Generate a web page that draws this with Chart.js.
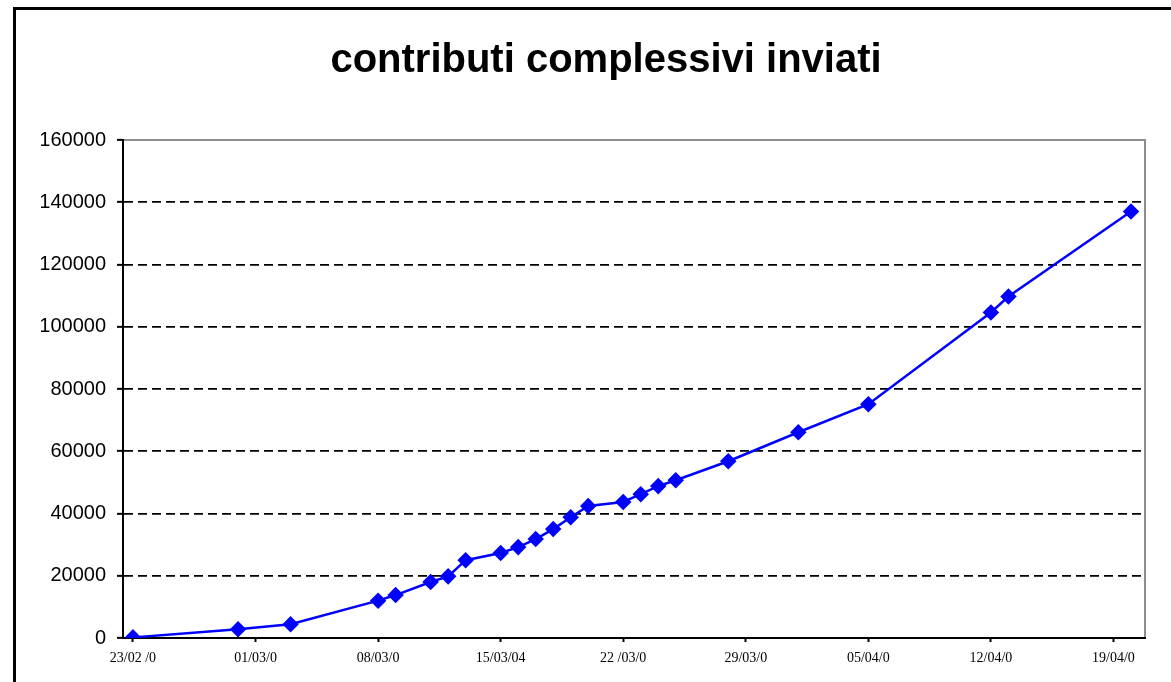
<!DOCTYPE html>
<html>
<head>
<meta charset="utf-8">
<script src="https://cdn.jsdelivr.net/npm/chart.js@4"></script>
<style>
  body { margin: 0; background: #fff; }
  #wrap { width: 1171px; height: 682px; }
</style>
</head>
<body>
<div id="wrap"><canvas id="chart" width="1171" height="682"></canvas></div>
<script>
// date dei contributi e totale cumulato
var dates = ["23/02/04","29/02/04","03/03/04","08/03/04","09/03/04","11/03/04","12/03/04","13/03/04",
             "15/03/04","16/03/04","17/03/04","18/03/04","19/03/04","20/03/04","22/03/04","23/03/04",
             "24/03/04","25/03/04","28/03/04","01/04/04","05/04/04","12/04/04","13/04/04","20/04/04"];
var totals = [200, 2800, 4400, 12000, 13800, 18000, 19800, 25000,
              27300, 29200, 31800, 35000, 38800, 42400, 43700, 46200,
              48800, 50700, 56800, 66100, 75100, 104600, 109700, 137000];

// etichette dell'asse x
var tickDates = ["23/02/04","01/03/04","08/03/04","15/03/04","22/03/04","29/03/04","05/04/04","12/04/04","19/04/04"];
var tickLabels = ["23/02 /0","01/03/0","08/03/0","15/03/04","22 /03/0","29/03/0","05/04/0","12/04/0","19/04/0"];

var title = "contributi complessivi inviati";

//Funzione che converte gg/mm/aa in giorni dal primo dato
function dayOf(str){
    var p = str.split("/")
    var t = Date.UTC(2000 + Number(p[2]), Number(p[1]) - 1, Number(p[0]))
    var p0 = dates[0].split("/")
    var t0 = Date.UTC(2000 + Number(p0[2]), Number(p0[1]) - 1, Number(p0[0]))
    return Math.round((t - t0) / 86400000)
}

var points = [];
dates.forEach((d, i) => {
    points.push({x: dayOf(d), y: totals[i]})
});
var tickDays = tickDates.map(dayOf);

//bordo esterno e cornice dell'area del grafico
var framePlugin = {
    id: 'frame',
    beforeDraw: function(chart){
        var ctx = chart.ctx
        var a = chart.chartArea
        ctx.save()
        ctx.fillStyle = '#ffffff'
        ctx.fillRect(0, 0, chart.width, chart.height)
        ctx.strokeStyle = '#000000'
        ctx.lineWidth = 3
        ctx.strokeRect(14.5, 8.5, chart.width + 20, chart.height + 20)
        ctx.strokeStyle = '#8c8c8c'
        ctx.lineWidth = 2
        ctx.beginPath()
        ctx.moveTo(a.left, a.top)
        ctx.lineTo(a.right, a.top)
        ctx.lineTo(a.right, a.bottom)
        ctx.stroke()
        ctx.restore()
    }
};

var ctx = document.getElementById("chart");

chart = new Chart(ctx, {
    type: 'scatter',
    data: {
        datasets: [{
            label: title,
            data: points,
            showLine: true,
            borderColor: '#0000ff',
            backgroundColor: '#0000ff',
            borderWidth: 2.5,
            pointStyle: 'rectRot',
            pointRadius: 6.5,
            pointHoverRadius: 6.5,
            tension: 0
        }]
    },
    options: {
        responsive: false,
        animation: false,
        layout: { padding: { left: 41, right: 0, top: 0, bottom: 0 } },
        plugins: {
            legend: { display: false },
            tooltip: { enabled: false },
            title: {
                display: true,
                text: title,
                color: '#000000',
                font: { family: 'Liberation Sans, Arial, sans-serif', size: 40, weight: 'bold', lineHeight: 1 },
                padding: { top: 41, bottom: 59 }
            }
        },
        scales: {
            x: {
                type: 'linear',
                min: -0.57,
                max: 57.8,
                afterBuildTicks: function(scale){
                    scale.ticks = tickDays.map(v => ({value: v}))
                },
                afterFit: function(scale){ scale.height = 44 },
                ticks: {
                    autoSkip: false,
                    maxRotation: 0,
                    color: '#000000',
                    padding: 8,
                    font: { family: 'Liberation Serif, Times New Roman, serif', size: 14 },
                    callback: function(value){
                        var i = tickDays.indexOf(value)
                        return i >= 0 ? tickLabels[i] : ''
                    }
                },
                grid: {
                    drawOnChartArea: false,
                    tickLength: 4,
                    tickColor: '#000000',
                    tickWidth: 2
                },
                border: { display: true, color: '#000000', width: 2 }
            },
            y: {
                min: 0,
                max: 160000,
                afterFit: function(scale){ scale.width = 82 },
                ticks: {
                    stepSize: 20000,
                    color: '#000000',
                    padding: 11,
                    font: { family: 'Liberation Sans, Arial, sans-serif', size: 20 },
                    callback: function(value){ return String(value) }
                },
                grid: {
                    color: function(c){
                        if(c.tick && (c.tick.value == 0 || c.tick.value == 160000)) return 'rgba(0,0,0,0)'
                        return '#000000'
                    },
                    lineWidth: 1.7,
                    tickLength: 6,
                    tickColor: '#000000',
                    tickWidth: 2,
                    tickBorderDash: []
                },
                border: { display: true, color: '#000000', width: 2, dash: [9, 5] }
            },
            // asse vuoto a destra, solo per il margine
            yRight: {
                position: 'right',
                min: 0,
                max: 160000,
                afterFit: function(scale){ scale.width = 26 },
                ticks: { display: false },
                grid: { display: false },
                border: { display: false }
            }
        }
    },
    plugins: [framePlugin]
});
</script>
</body>
</html>
